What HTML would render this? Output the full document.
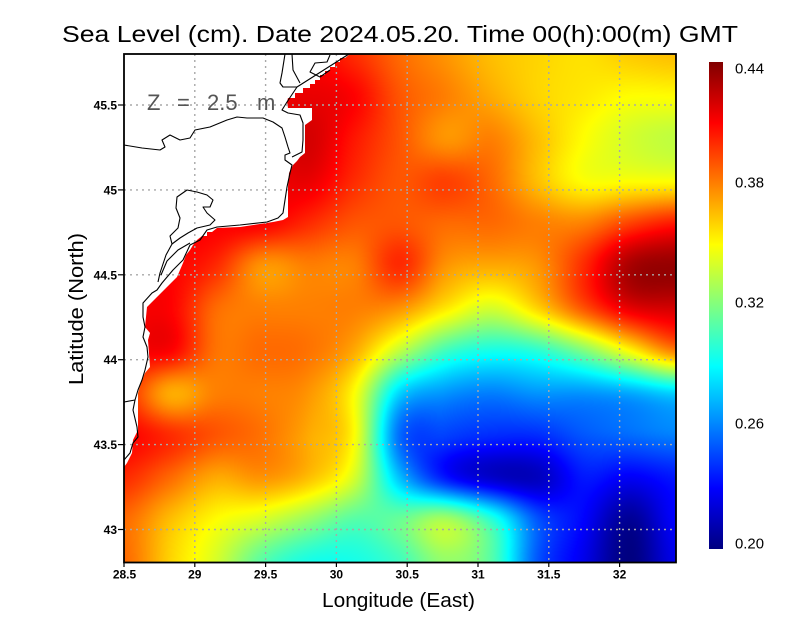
<!DOCTYPE html>
<html>
<head>
<meta charset="utf-8">
<style>
html,body{margin:0;padding:0;background:#fff;}
#wrap{position:relative;width:800px;height:618px;overflow:hidden;background:#fff;}
#cv{position:absolute;left:124px;top:54px;width:552px;height:509px;}
#ov{position:absolute;left:0;top:0;}
text{font-family:"Liberation Sans",sans-serif;}
</style>
</head>
<body>
<div id="wrap">
<canvas id="cv" width="552" height="509"></canvas>
<svg id="ov" width="800" height="618" viewBox="0 0 800 618" xmlns="http://www.w3.org/2000/svg">
<defs>
<linearGradient id="jet" x1="0" y1="1" x2="0" y2="0">
<stop offset="0" stop-color="#000080"/>
<stop offset="0.125" stop-color="#0000ff"/>
<stop offset="0.375" stop-color="#00ffff"/>
<stop offset="0.5" stop-color="#80ff80"/>
<stop offset="0.625" stop-color="#ffff00"/>
<stop offset="0.875" stop-color="#ff0000"/>
<stop offset="1" stop-color="#800000"/>
</linearGradient>
</defs>

<!-- land -->
<path fill="#fff" d="M124,54 L350,54 L345,58 L340,58 L340,62 L335,62 L335,67 L330,67 L330,71 L325,71 L325,75 L320,75 L320,80 L315,80 L315,84 L310,84 L310,88 L303,88 L303,93 L295,93 L295,98 L288,98 L287,102 L288,108 L312,108 L312,120 L305,125 L305,153 L300,157 L297,161 L293,165 L289,173 L288,187 L288,217 L283,220 L273,222 L240,227 L217,228 L212,232 L207,232 L207,236 L202,236 L197,240 L193,245 L190,250 L186,255 L183,263 L180,270 L177,277 L172,282 L167,287 L162,292 L157,297 L152,302 L147,307 L145,327 L150,333 L148,340 L150,367 L145,373 L141,383 L138,393 L138,430 L133,440 L132,453 L127,463 L124,467 Z"/>

<!-- grid -->
<g stroke="#a8a8a8" stroke-width="1.4" stroke-dasharray="2,4" fill="none">
<line x1="194.8" y1="54" x2="194.8" y2="562"/>
<line x1="265.6" y1="54" x2="265.6" y2="562"/>
<line x1="336.4" y1="54" x2="336.4" y2="562"/>
<line x1="407.2" y1="54" x2="407.2" y2="562"/>
<line x1="478" y1="54" x2="478" y2="562"/>
<line x1="548.8" y1="54" x2="548.8" y2="562"/>
<line x1="619.6" y1="54" x2="619.6" y2="562"/>
<line x1="124" y1="105" x2="676" y2="105"/>
<line x1="124" y1="189.9" x2="676" y2="189.9"/>
<line x1="124" y1="274.8" x2="676" y2="274.8"/>
<line x1="124" y1="359.7" x2="676" y2="359.7"/>
<line x1="124" y1="444.6" x2="676" y2="444.6"/>
<line x1="124" y1="529.5" x2="676" y2="529.5"/>
</g>

<!-- coastlines -->
<g stroke="#000" stroke-width="1.1" fill="none" stroke-linejoin="round">
<path d="M349,54 L297,87 L287,102 L282,110 L288,113 L300,115 L303,123 L303,140 L302,152 L292,157"/>
<path d="M124,145 L142,148 L160,150 L165,147 L162,140 L170,135 L180,140 L190,138 L195,130 L210,127 L227,120 L237,117 L247,118 L263,118 L273,122 L282,128 L285,137 L288,147 L290,153 L285,155 L285,160 L292,165 L290,173 L287,187 L285,200 L283,213 L278,218 L267,222 L240,225 L217,227 L207,230 L200,240 L190,245 L183,260 L173,270 L162,283 L157,290 L152,293 L143,303 L143,317 L145,327 L143,337 L147,347 L148,357 L145,370 L142,380 L138,390 L135,400 L133,410 L137,427 L138,437 L133,443 L130,453 L124,460"/>
<path d="M124,402 L135,400"/>
<path d="M285,54 L282,73 L280,83 L283,87 L297,87"/>
<path d="M292,54 L293,70 L300,83"/>
<path d="M330,55 L327,62 L315,63 L310,72 L320,77 L330,70"/>
<path d="M177,197 L187,190 L197,192 L207,195 L213,200 L210,207 L203,207 L207,213 L215,220 L210,225 L197,228 L188,233 L180,238 L172,244 L170,236 L178,228 L180,218 L176,208 Z"/>
<path d="M172,244 L166,255 L160,273 L158,282"/>
<path d="M190,243 L178,250 L167,261 L161,275"/>
</g>

<!-- Z label -->
<g fill="#555" font-size="22">
<text x="147" y="110">Z</text>
<text x="177" y="110">=</text>
<text x="207" y="110">2.5</text>
<text x="257" y="110">m</text>
</g>

<!-- frame -->
<rect x="124" y="54" width="552" height="508.5" fill="none" stroke="#000" stroke-width="1.8"/>

<!-- ticks -->
<g stroke="#000" stroke-width="1.2">
<line x1="118" y1="105" x2="124" y2="105"/>
<line x1="118" y1="189.9" x2="124" y2="189.9"/>
<line x1="118" y1="274.8" x2="124" y2="274.8"/>
<line x1="118" y1="359.7" x2="124" y2="359.7"/>
<line x1="118" y1="444.6" x2="124" y2="444.6"/>
<line x1="118" y1="529.5" x2="124" y2="529.5"/>
<line x1="124" y1="562" x2="124" y2="567"/>
<line x1="194.8" y1="562" x2="194.8" y2="567"/>
<line x1="265.6" y1="562" x2="265.6" y2="567"/>
<line x1="336.4" y1="562" x2="336.4" y2="567"/>
<line x1="407.2" y1="562" x2="407.2" y2="567"/>
<line x1="478" y1="562" x2="478" y2="567"/>
<line x1="548.8" y1="562" x2="548.8" y2="567"/>
<line x1="619.6" y1="562" x2="619.6" y2="567"/>
</g>

<!-- y tick labels -->
<g font-size="12" font-weight="bold" text-anchor="end" fill="#000">
<text x="117" y="109.5">45.5</text>
<text x="117" y="194.4">45</text>
<text x="117" y="279.3">44.5</text>
<text x="117" y="364.2">44</text>
<text x="117" y="449.1">43.5</text>
<text x="117" y="534">43</text>
</g>

<!-- x tick labels -->
<g font-size="12" font-weight="bold" text-anchor="middle" fill="#000">
<text x="124.5" y="578.5">28.5</text>
<text x="194.8" y="578.5">29</text>
<text x="265.6" y="578.5">29.5</text>
<text x="336.4" y="578.5">30</text>
<text x="407.2" y="578.5">30.5</text>
<text x="478" y="578.5">31</text>
<text x="548.8" y="578.5">31.5</text>
<text x="619.6" y="578.5">32</text>
</g>

<!-- titles -->
<text x="62" y="42" font-size="23" textLength="676" lengthAdjust="spacingAndGlyphs" fill="#000">Sea Level (cm). Date 2024.05.20. Time 00(h):00(m) GMT</text>
<text x="322" y="607" font-size="20" textLength="153" lengthAdjust="spacingAndGlyphs" fill="#000">Longitude (East)</text>
<text transform="translate(83,385) rotate(-90)" x="0" y="0" font-size="20" textLength="152" lengthAdjust="spacingAndGlyphs" fill="#000">Latitude (North)</text>

<!-- colorbar -->
<rect x="709" y="62" width="14" height="487" fill="url(#jet)"/>
<g font-size="14.5" fill="#000">
<text x="735" y="73.3" textLength="29" lengthAdjust="spacingAndGlyphs">0.44</text>
<text x="735" y="187.3" textLength="29" lengthAdjust="spacingAndGlyphs">0.38</text>
<text x="735" y="307.7" textLength="29" lengthAdjust="spacingAndGlyphs">0.32</text>
<text x="735" y="428.3" textLength="29" lengthAdjust="spacingAndGlyphs">0.26</text>
<text x="735" y="548.3" textLength="29" lengthAdjust="spacingAndGlyphs">0.20</text>
</g>
</svg>
</div>
<script>
(function(){
var G=[
[0.40,0.40,0.40,0.40,0.41,0.40,0.385,0.375,0.365,0.36,0.357,0.362,0.365],
[0.40,0.40,0.40,0.41,0.415,0.41,0.39,0.38,0.37,0.36,0.355,0.35,0.35],
[0.40,0.40,0.40,0.41,0.42,0.405,0.39,0.375,0.38,0.365,0.35,0.34,0.335],
[0.40,0.40,0.40,0.41,0.415,0.40,0.39,0.395,0.385,0.365,0.35,0.35,0.35],
[0.41,0.41,0.41,0.41,0.40,0.39,0.39,0.385,0.385,0.38,0.38,0.395,0.405],
[0.41,0.41,0.40,0.375,0.38,0.38,0.40,0.375,0.37,0.375,0.40,0.43,0.435],
[0.41,0.41,0.385,0.38,0.38,0.38,0.375,0.355,0.34,0.36,0.39,0.415,0.42],
[0.41,0.41,0.383,0.385,0.383,0.37,0.335,0.305,0.295,0.30,0.32,0.35,0.38],
[0.40,0.37,0.38,0.38,0.375,0.35,0.28,0.265,0.26,0.265,0.265,0.27,0.28],
[0.41,0.40,0.39,0.383,0.37,0.35,0.255,0.245,0.24,0.24,0.25,0.255,0.26],
[0.40,0.385,0.37,0.375,0.365,0.34,0.275,0.235,0.218,0.215,0.235,0.228,0.235],
[0.385,0.365,0.35,0.34,0.325,0.31,0.315,0.33,0.30,0.25,0.23,0.205,0.23],
[0.385,0.36,0.34,0.31,0.295,0.295,0.305,0.325,0.31,0.25,0.225,0.20,0.225]
];
var N=13;
function g(r,c){r=Math.max(0,Math.min(N-1,r));c=Math.max(0,Math.min(N-1,c));return G[r][c];}
function cr(p0,p1,p2,p3,t){return 0.5*((2*p1)+(-p0+p2)*t+(2*p0-5*p1+4*p2-p3)*t*t+(-p0+3*p1-3*p2+p3)*t*t*t);}
function val(gx,gy){
 var ix=Math.floor(gx),iy=Math.floor(gy);
 if(ix>=N-1)ix=N-2; if(iy>=N-1)iy=N-2;
 var tx=gx-ix,ty=gy-iy;
 var rows=[];
 for(var k=-1;k<=2;k++){
  var r=iy+k;
  rows.push(cr(g(r,ix-1),g(r,ix),g(r,ix+1),g(r,ix+2),tx));
 }
 return cr(rows[0],rows[1],rows[2],rows[3],ty);
}
function cl(v){return v<0?0:(v>1?1:v);}
var cv=document.getElementById('cv');
var ctx=cv.getContext('2d');
var W=cv.width,H=cv.height;
var img=ctx.createImageData(W,H);
var d=img.data;
for(var y=0;y<H;y++){
 var gy=y*12/(H-1);
 for(var x=0;x<W;x++){
  var gx=x*12/(W-1);
  var v=val(gx,gy);
  var t=cl((v-0.20)/0.24);
  var r=cl(1.5-Math.abs(4*t-3)),gg=cl(1.5-Math.abs(4*t-2)),b=cl(1.5-Math.abs(4*t-1));
  var i=(y*W+x)*4;
  d[i]=Math.round(r*255);d[i+1]=Math.round(gg*255);d[i+2]=Math.round(b*255);d[i+3]=255;
 }
}
ctx.putImageData(img,0,0);
})();
</script>
</body>
</html>
